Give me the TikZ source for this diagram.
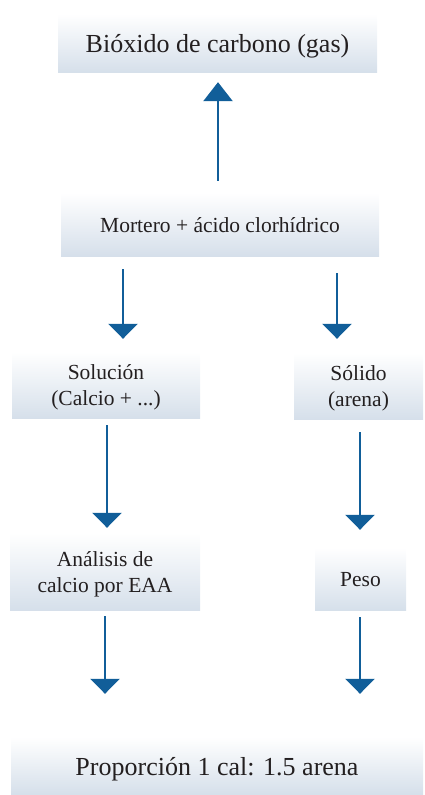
\documentclass[tikz,border=0pt]{standalone}
\usepackage{fontspec}
\setmainfont{Liberation Serif}
\usetikzlibrary{arrows.meta}
\definecolor{flowblue}{RGB}{17,94,153}
\definecolor{boxshade}{RGB}{213,223,234}
\definecolor{inkgray}{RGB}{35,31,32}

\begin{document}
\begin{tikzpicture}[x=1pt,y=1pt,line cap=butt,
  stage/.style={inner sep=0pt,align=center,text=inkgray,text depth=0pt,top color=white,bottom color=boxshade,font=\fontsize{21.5}{26}\selectfont},
  bigstage/.style={stage,font=\fontsize{26}{30}\selectfont},
  flow/.style={draw=flowblue,line width=2.5pt,-{Triangle[width=29pt,length=15pt]}}]
\useasboundingbox (0,0) rectangle (424,795);
\node[bigstage,minimum width=319,minimum height=59] (bio) at (217.5,751.5) {Bióxido de carbono (gas)};
\node[stage,minimum width=318,minimum height=64] (mortero) at (220,570) {Mortero + ácido clorhídrico};
\node[stage,minimum width=188,minimum height=67] (solucion) at (106,409.5) {Solución\\(Calcio + ...)};
\node[stage,minimum width=129,minimum height=67] (solido) at (358.5,408.5) {Sólido\\(arena)};
\node[stage,minimum width=190,minimum height=78] (analisis) at (105,223) {Análisis de\\calcio por EAA};
\node[stage,minimum width=91,minimum height=63] (peso) at (360.5,215.5) {Peso};
\node[bigstage,minimum width=412,minimum height=58] (proporcion) at (217,29) {Proporción 1 cal: 1.5 arena};
% arrows
\draw[flow,-{Triangle[width=29pt,length=19pt]}] ([xshift=-2,yshift=12]mortero.north) -- ([xshift=0.5,yshift=-9]bio.south);
\draw[flow] ([xshift=-97,yshift=-12]mortero.south) -- ([xshift=17,yshift=13]solucion.north);
\draw[flow] ([xshift=117,yshift=-16]mortero.south) -- ([xshift=-21.5,yshift=14]solido.north);
\draw[flow] ([xshift=1,yshift=-6]solucion.south) -- ([xshift=2,yshift=5]analisis.north);
\draw[flow] ([xshift=1.5,yshift=-12]solido.south) -- ([xshift=-0.5,yshift=18]peso.north);
\draw[flow] ([yshift=-5]analisis.south) -- ([xshift=-112,yshift=43]proporcion.north);
\draw[flow] ([xshift=-0.5,yshift=-6]peso.south) -- ([xshift=143,yshift=43]proporcion.north);
\end{tikzpicture}
\end{document}
